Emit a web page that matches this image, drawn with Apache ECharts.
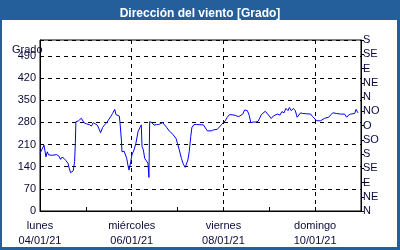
<!DOCTYPE html>
<html><head><meta charset="utf-8">
<script src="https://cdn.jsdelivr.net/npm/echarts@6/dist/echarts.min.js"></script>
<style>
html,body{margin:0;padding:0;}
#wrap{position:relative;width:400px;height:250px;background:#245F9C;overflow:hidden;}
#inner{position:absolute;left:2px;top:20px;width:395px;height:227px;background:#fff;}
#chart{position:absolute;left:0;top:0;width:400px;height:250px;}
</style></head>
<body>
<div id="wrap"><div id="inner"></div><div id="chart"></div></div>
<script>
// Hours since Monday 04/01/21 00:00
const hours = [0,0.5,2.1,3.1,3.8,4.5,5.2,6.3,7.3,8.7,9.8,10.8,11.5,12.6,13.6,14.7,15.3,16,16.7,17.4,18.1,18.5,
 18.8,19.5,20.2,20.9,21.6,22.3,23,24.4,25.8,26.9,27.9,28.9,30,31,31.7,32.8,33.8,34.9,35.9,37,38,39.1,39.8,40.5,41.5,41.9,
 42.6,42.9,44,44.7,45.4,46,46.6,47.1,47.5,47.8,48.1,49.2,50.2,51.3,52.3,53,53.4,54.1,54.8,55.8,56.5,57,57.4,57.9,58.6,
 59.7,61,62.1,63.1,64.2,65.2,66.3,67,67.7,68.4,69.1,70.1,71.2,71.9,72.9,74,75,76,76.8,77.4,78.1,78.9,79.5,80.6,82,
 85.5,86.3,87.6,88.6,89.6,90.7,91.7,92.8,93.8,94.9,95.9,97,98,99.1,100.5,102.2,103.2,104,105,106.1,107.1,108.5,109.5,
 110.3,111.6,113,114.1,114.8,115.8,116.8,117.9,118.9,120,121,122.1,123.1,124.2,124.9,125.6,126.6,127.7,128.7,129.8,
 130.5,131.5,132.6,133.6,134.6,135.4,136.4,137.5,138.5,139.6,140.6,141.7,142.7,143.7,144.8,145.8,146.9,147.9,149,150,
 151.1,152.1,153.2,154.2,155.3,156.3,157.4,158.4,159.4,160.5,161.5,162.6,163.6,164.7,165.4,166,166.4];
const degrees = [182,180,208,171,187,177,182,176,177,178,174,163,170,166,159,150,135,121,117,127,156,214,
 282,277,285,279,293,296,279,275,273,268,279,281,271,258,247,264,272,279,283,298,308,321,304,302,300,277,
 224,187,189,187,166,145,129,135,156,150,177,193,214,250,264,272,203,193,166,166,151,106,282,285,279,
 271,273,273,277,279,273,264,258,252,256,245,240,229,214,193,166,148,138,143,161,187,235,264,273,273,
 272,266,253,256,253,256,253,258,264,272,279,285,296,304,304,302,304,298,302,306,319,317,302,
 279,281,281,283,291,304,310,315,310,300,292,300,303,306,310,303,314,310,324,317,
 327,317,324,317,296,300,310,308,314,307,303,306,298,293,285,279,285,287,293,290,
 296,303,310,306,308,303,306,303,306,296,303,306,306,308,321,324,310];
const dayNames = ['lunes','martes','miércoles','jueves','viernes','sábado','domingo','lunes'];
const dayDates = ['04/01/21','05/01/21','06/01/21','07/01/21','08/01/21','09/01/21','10/01/21','11/01/21'];
const leftTicks = [0,70,140,210,280,350,420,490];
const compass = ['N','NE','E','SE','S','SO','O','NO','N','NE','E','SE','S'];
const titleText = 'Dirección del viento [Grado]';
const unitText = 'Grado';

const txt = '#0a0a3c';
const font = 'Liberation Sans';
const chart = echarts.init(document.getElementById('chart'), null, {renderer:'canvas'});
chart.setOption({
  backgroundColor: 'transparent',
  animation: false,
  title: [
    {text: titleText, left: 'center', top: 3, textStyle:{color:'#fff', fontSize:12, fontWeight:'bold', fontFamily:font}},
    {text: unitText, left: 7, top: 39, textStyle:{color:txt, fontSize:11, fontWeight:'normal', fontFamily:font}}
  ],
  grid: {left:40, right:39, top:40, bottom:39, show:true, borderColor:'#000', borderWidth:1, backgroundColor:'transparent'},
  xAxis: {
    type:'value', min:0, max:168, interval:48,
    axisLine:{show:true, lineStyle:{color:'#000'}},
    axisTick:{show:true, inside:true, length:4, lineStyle:{color:'#000'}},
    minorTick:{show:true, splitNumber:2, length:4, lineStyle:{color:'#000'}},
    splitLine:{show:true, lineStyle:{color:'#000', type:[4,4]}},
    axisLabel:{color:txt, fontSize:11, fontFamily:font, margin:7, lineHeight:15,
      showMaxLabel:false,
      formatter:function(v){const d=Math.round(v/24); return dayNames[d]+'\n'+dayDates[d];}}
  },
  yAxis: [
    {type:'value', min:0, max:540, interval:70, position:'left',
     axisLine:{show:true, lineStyle:{color:'#000'}},
     axisTick:{show:false},
     splitLine:{show:true, lineStyle:{color:'#000', type:[4,4]}},
     axisLabel:{color:txt, fontSize:11, fontFamily:font, margin:4,
       formatter:function(v){return leftTicks.indexOf(v)>=0 ? String(v) : '';}}
    },
    {type:'value', min:0, max:540, interval:45, position:'right',
     axisLine:{show:true, lineStyle:{color:'#000'}},
     axisTick:{show:true, length:3, lineStyle:{color:'#000'}},
     splitLine:{show:false},
     axisLabel:{color:txt, fontSize:11, fontFamily:font, margin:2,
       formatter:function(v){return compass[Math.round(v/45)];}}
    }
  ],
  series: [{
    type:'line', yAxisIndex:0, showSymbol:false, symbol:'none',
    lineStyle:{color:'#0000ff', width:1},
    data: hours.map((h,i)=>[h, degrees[i]])
  }]
});
</script>
</body></html>
